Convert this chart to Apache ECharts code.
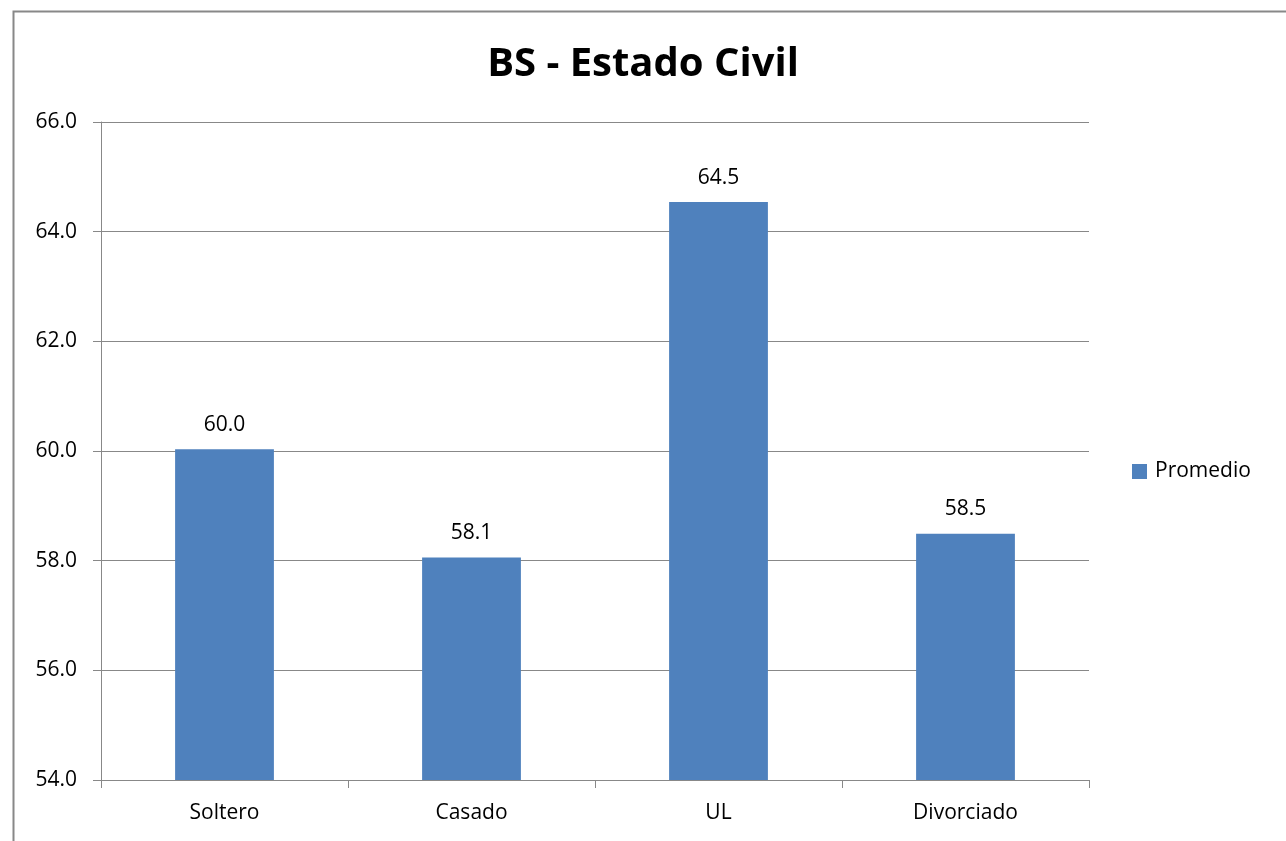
<!DOCTYPE html>
<html>
<head>
<meta charset="utf-8">
<script src="https://cdn.jsdelivr.net/npm/echarts@6/dist/echarts.min.js"></script>
<style>
html,body{margin:0;padding:0;background:#fff;}
#c{width:1286px;height:841px;}
</style>
</head>
<body>
<div id="c"></div>
<script>
const categories = ["Soltero", "Casado", "UL", "Divorciado"];
const promedio = [60.03, 58.06, 64.54, 58.49];
const seriesName = "Promedio";
const titleText = "BS - Estado Civil";

const chart = echarts.init(document.getElementById('c'), null, {renderer: 'canvas'});
const font = "'Open Sans', 'Noto Sans', sans-serif";
chart.setOption({
  animation: false,
  backgroundColor: '#fff',
  graphic: [{
    type: 'rect', left: 11, top: 9,
    shape: {width: 1274, height: 900},
    style: {fill: 'none', stroke: '#888', lineWidth: 2},
    silent: true
  }],
  title: {
    text: titleText, left: 'center', top: 40,
    textStyle: {fontFamily: font, fontSize: 40, fontWeight: 'bold', color: '#000'}
  },
  legend: {
    data: [seriesName], left: 1132, top: 461, orient: 'vertical', padding: 0,
    itemWidth: 15, itemHeight: 15, icon: 'rect', itemGap: 6,
    textStyle: {fontFamily: font, fontSize: 21, color: '#000', padding: [0, 0, 0, 3]}
  },
  grid: {left: 101, right: 197, top: 122, bottom: 61, containLabel: false},
  xAxis: {
    type: 'category', data: categories,
    axisLine: {lineStyle: {color: '#888', width: 1}},
    axisTick: {show: true, length: 8, lineStyle: {color: '#888'}},
    axisLabel: {fontFamily: font, fontSize: 21, color: '#000', margin: 23}
  },
  yAxis: {
    type: 'value', min: 54, max: 66, interval: 2,
    axisLine: {show: true, lineStyle: {color: '#888'}},
    axisTick: {show: true, length: 8, lineStyle: {color: '#888'}},
    splitLine: {lineStyle: {color: '#888', width: 1}},
    axisLabel: {fontFamily: font, fontSize: 21, color: '#000', margin: 24,
      formatter: v => v.toFixed(1)}
  },
  series: [{
    name: seriesName, type: 'bar', data: promedio, barWidth: '40%',
    itemStyle: {color: '#4F81BD'},
    label: {show: true, position: 'top', distance: 14, fontFamily: font, fontSize: 21, color: '#000',
      formatter: p => p.value.toFixed(1)}
  }]
});
</script>
</body>
</html>
